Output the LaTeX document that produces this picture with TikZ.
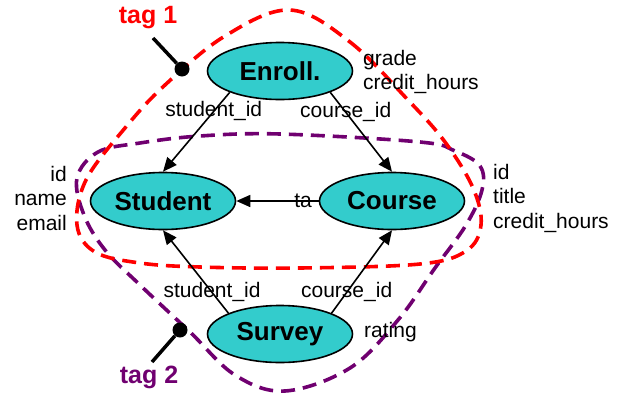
\documentclass[tikz,border=0pt]{standalone}
\usepackage{fontspec}
\setmainfont{Liberation Sans}
\usetikzlibrary{arrows.meta,shapes.geometric}
\definecolor{tealFill}{HTML}{33CCCC}
\definecolor{tagRed}{HTML}{FF0000}
\definecolor{tagPurple}{HTML}{700070}

\begin{document}
\begin{tikzpicture}[x=1pt, y=-1pt, every node/.style={font=\fontsize{21}{24.5}\selectfont},
  entity/.style={ellipse,draw,line width=1.6pt,fill=tealFill,minimum width=145pt,
                 minimum height=57pt,inner sep=0pt,font=\fontsize{26}{30}\selectfont\bfseries},
  attr/.style={inner sep=0pt},
  rel/.style={-{Triangle[length=14pt,width=12pt]},line width=1.6pt},
  tagline/.style={dash pattern=on 14pt off 8pt,line width=3.6pt},
  tagdot/.style={circle,fill=black,inner sep=0pt,minimum size=15pt},
  taglabel/.style={font=\fontsize{25}{30}\selectfont\bfseries}]
\useasboundingbox (0,0) rectangle (618,394);
% groups
\draw[tagline,tagPurple] plot[smooth cycle,tension=0.6] coordinates {(280,134) (420,142) (455,151)
  (480,166) (482,190) (466,225) (435,268) (398,320) (350,368) (285,391) (235,375) (190,332) (140,285)
  (105,250) (84,215) (77,178) (98,152) (140,143) (200,136)};
\draw[tagline,tagRed] plot[smooth cycle,tension=0.6] coordinates {(290,10) (350,42) (408,100)
  (445,142) (473,188) (481,225) (466,251) (420,264) (300,268) (200,267) (140,263) (95,252)
  (77,225) (86,180) (125,128) (165,85) (225,36)};
% entities
\node[entity] (enr) at (280,71) {Enroll.};
\node[entity] (stu) at (163,201) {Student};
\node[entity] (crs) at (392,201) {Course};
\node[entity] (srv) at (280,334) {Survey};
% attributes
\node[attr,anchor=west,align=left] (enrAttr) at (363,72) {grade\\credit\_hours};
\node[attr,anchor=east,align=right] (stuAttr) at (67,198) {id\\name\\email};
\node[attr,anchor=west,align=left] (crsAttr) at (493,198) {id\\title\\credit\_hours};
\node[attr,anchor=west] (srvAttr) at (364,332) {rating};
% references
\draw[rel] (enr.203) -- node[pos=0.24]{student\_id} (stu.north);
\draw[rel] (enr.337) -- node[pos=0.25]{course\_id} (crs.north);
\draw[rel] (srv.158) -- node[pos=0.25]{student\_id} (stu.south);
\draw[rel] (srv.22) -- node[pos=0.25]{course\_id} (crs.south);
\draw[rel] (crs.west) -- node[pos=0.19]{ta} (stu.east);
% tags
\node[taglabel,tagRed] (tag1) at (148,18) {tag 1};
\node[tagdot] (dot1) at (182,69) {};
\coordinate (tag1end) at (153,38);
\draw[line width=3.5pt] (tag1end) -- (dot1);
\node[taglabel,tagPurple] (tag2) at (149,377) {tag 2};
\node[tagdot] (dot2) at (180,330) {};
\coordinate (tag2end) at (152,362);
\draw[line width=3.5pt] (tag2end) -- (dot2);
\end{tikzpicture}
\end{document}
